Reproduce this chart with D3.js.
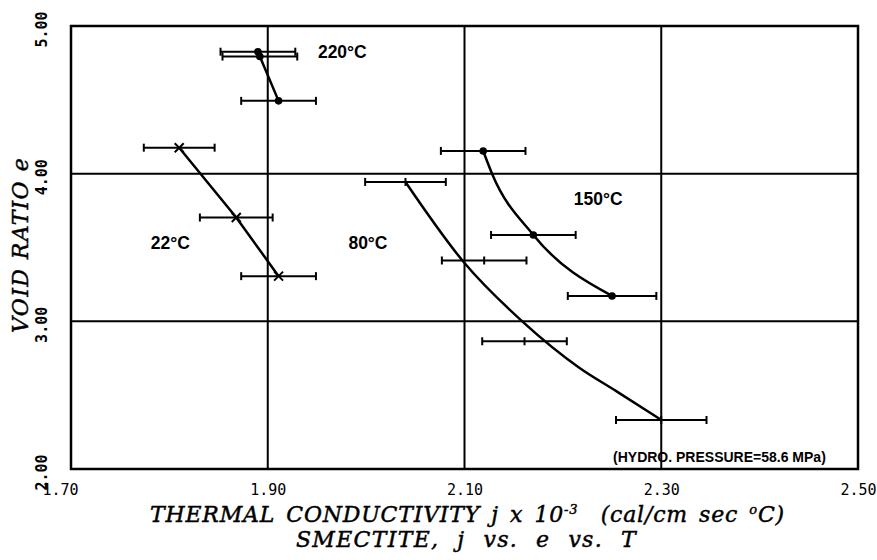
<!DOCTYPE html>
<meta charset="utf-8">
<title>Smectite j vs e vs T</title>
<style>
  body { margin: 0; background: #fff; }
  .tick text { font-family: "DejaVu Sans Mono", monospace; font-size: 15px; fill: #000; }
  .ytk .tick text { font-weight: bold; }
  .lbl { font-family: "Liberation Sans", Arial, sans-serif; font-weight: bold; font-size: 17.5px; }
  .title { font-family: "DejaVu Serif", serif; font-style: italic; white-space: pre;
           font-size: 22px; stroke: #000; stroke-width: 0.45px; }
</style>
<body>
<svg width="877" height="560"></svg>
<script src="https://d3js.org/d3.v7.min.js"></script>
<script>

// axis ticks and grid
var xTicks = [1.70, 1.90, 2.10, 2.30, 2.50];
var yTicks = [2.00, 3.00, 4.00, 5.00];
var xGrid = [1.90, 2.10, 2.30];
var yGrid = [3.00, 4.00];

// 22 C  (x markers)
var t22_j = [1.810, 1.868, 1.911];
var t22_e = [4.176, 3.703, 3.306];
var t22_err = [0.036, 0.037, 0.038];

// 220 C (dots)
var t220_j = [1.890, 1.892, 1.911];
var t220_e = [4.826, 4.793, 4.493];
var t220_err = [0.038, 0.038, 0.038];

// 80 C (ticks only) + fitted curve
var t80_j = [2.040, 2.120, 2.161, 2.300];
var t80_e = [3.944, 3.412, 2.865, 2.332];
var t80_err = [0.041, 0.043, 0.043, 0.046];
var fit80_j = [2.040, 2.100, 2.159, 2.217, 2.255, 2.300];
var fit80_e = [3.944, 3.395, 2.998, 2.684, 2.524, 2.332];

// 150 C (dots)
var t150_j = [2.119, 2.170, 2.250];
var t150_e = [4.154, 3.585, 3.172];
var t150_err = [0.043, 0.043, 0.045];
var fit150_j = [2.119, 2.128, 2.170, 2.250];
var fit150_e = [4.154, 4.000, 3.585, 3.172];

var labels = ["220°C", "22°C", "80°C", "150°C", "(HYDRO. PRESSURE=58.6 MPa)"];
var labelJ = [1.951, 1.781, 1.982, 2.211, 2.251];
var labelE = [4.783, 3.490, 3.490, 3.788, 2.047];

var zip = (a, b) => a.map((v, i) => [v, b[i]]);

const svg = d3.select("svg");
const pl = 71, pr = 858, pt = 26, pb = 469;

var x = d3.scaleLinear().domain([1.70, 2.50]).range([pl, pr]);
var y = d3.scaleLinear().domain([2.00, 5.00]).range([pb, pt]);

// grid
svg.selectAll(".gx").data(xGrid).enter().append("line")
  .attr("x1", d => x(d)).attr("x2", d => x(d))
  .attr("y1", pt).attr("y2", pb)
  .attr("stroke", "#000").attr("stroke-width", 2);
svg.selectAll(".gy").data(yGrid).enter().append("line")
  .attr("x1", pl).attr("x2", pr)
  .attr("y1", d => y(d)).attr("y2", d => y(d))
  .attr("stroke", "#000").attr("stroke-width", 2);

// frame
svg.append("rect")
  .attr("x", pl).attr("y", pt)
  .attr("width", pr - pl).attr("height", pb - pt)
  .attr("fill", "none").attr("stroke", "#000").attr("stroke-width", 2.5);

// axes (labels only)
var gx = svg.append("g").attr("transform", `translate(0,${pb})`)
  .call(d3.axisBottom(x).tickValues(xTicks).tickFormat(d3.format(".2f")).tickSize(0));
gx.select(".domain").remove();
gx.selectAll("text").attr("dy", null).attr("y", 26)
  .attr("x", d => d === 1.70 ? -11 : 0);

var gy = svg.append("g").attr("class", "ytk").attr("transform", `translate(${pl},0)`)
  .call(d3.axisLeft(y).tickValues(yTicks).tickFormat(d3.format(".2f")).tickSize(0));
gy.select(".domain").remove();
gy.selectAll("text").attr("dy", null).attr("x", 0).attr("y", 0)
  .attr("text-anchor", "middle")
  .attr("transform", "translate(-24,3) rotate(-90)");

// error bars
function errorBars(js, es, errs, capMid) {
  var g = svg.append("g").attr("stroke", "#000").attr("stroke-width", 2).attr("fill", "none");
  js.forEach(function (j, i) {
    var cy = y(es[i]), x0 = x(j - errs[i]), x1 = x(j + errs[i]);
    g.append("line").attr("x1", x0).attr("x2", x1).attr("y1", cy).attr("y2", cy);
    var caps = capMid ? [x0, x(j), x1] : [x0, x1];
    caps.forEach(function (cx) {
      g.append("line").attr("x1", cx).attr("x2", cx).attr("y1", cy - 4).attr("y2", cy + 4);
    });
  });
}

function curve(js, es, kind) {
  svg.append("path")
    .datum(zip(js, es))
    .attr("fill", "none").attr("stroke", "#000").attr("stroke-width", 2.5)
    .attr("d", d3.line().x(d => x(d[0])).y(d => y(d[1])).curve(kind));
}

errorBars(t22_j, t22_e, t22_err, false);
errorBars(t220_j, t220_e, t220_err, false);
errorBars(t80_j, t80_e, t80_err, true);
errorBars(t150_j, t150_e, t150_err, false);

curve(t22_j, t22_e, d3.curveLinear);
curve(t220_j, t220_e, d3.curveLinear);
curve(fit80_j, fit80_e, d3.curveMonotoneX);
curve(fit150_j, fit150_e, d3.curveMonotoneX);

// markers
svg.selectAll(".xm").data(zip(t22_j, t22_e)).enter().append("path")
  .attr("d", d => {
    var cx = x(d[0]), cy = y(d[1]), s = 4.5;
    return `M${cx - s},${cy - s}L${cx + s},${cy + s}M${cx - s},${cy + s}L${cx + s},${cy - s}`;
  })
  .attr("stroke", "#000").attr("stroke-width", 2);

svg.selectAll(".dot").data(zip(t220_j, t220_e).concat(zip(t150_j, t150_e))).enter().append("circle")
  .attr("cx", d => x(d[0])).attr("cy", d => y(d[1])).attr("r", 3.8)
  .attr("fill", "#000");

// annotations
svg.selectAll(".lbl").data(labels).enter().append("text")
  .attr("class", "lbl")
  .attr("x", (d, i) => x(labelJ[i])).attr("y", (d, i) => y(labelE[i]))
  .style("font-size", (d, i) => i === 4 ? "14px" : null)
  .text(d => d);

// letter-space a bit, then widen the word gaps so the text spans w
function fit(t, w, ls) {
  var node = t.node(), txt = node.textContent;
  t.style("letter-spacing", ls + "px");
  var cur = node.getComputedTextLength();
  var gaps = txt.split(" ").length - 1;
  if (gaps > 0) t.style("word-spacing", ((w - cur) / gaps) + "px");
}

// titles
var xt = svg.append("text").attr("class", "title")
  .attr("x", 150).attr("y", 522);
xt.append("tspan").text("THERMAL CONDUCTIVITY j x 10");
xt.append("tspan").attr("dy", -8).style("font-size", "13px").text("-3");
xt.append("tspan").attr("dy", 8).text("  (cal/cm sec ");
xt.append("tspan").attr("dy", -8).style("font-size", "13px").text("o");
xt.append("tspan").attr("dy", 8).text("C)");
fit(xt, 635, 0.8);

var st = svg.append("text").attr("class", "title")
  .attr("x", 296).attr("y", 547)
  .text("SMECTITE, j vs. e vs. T");
fit(st, 341, 1.3);

var yt = svg.append("text").attr("class", "title")
  .attr("transform", "translate(28,333) rotate(-90)")
  .text("VOID RATIO e");
fit(yt, 176, 1.3);

</script>
</body>
